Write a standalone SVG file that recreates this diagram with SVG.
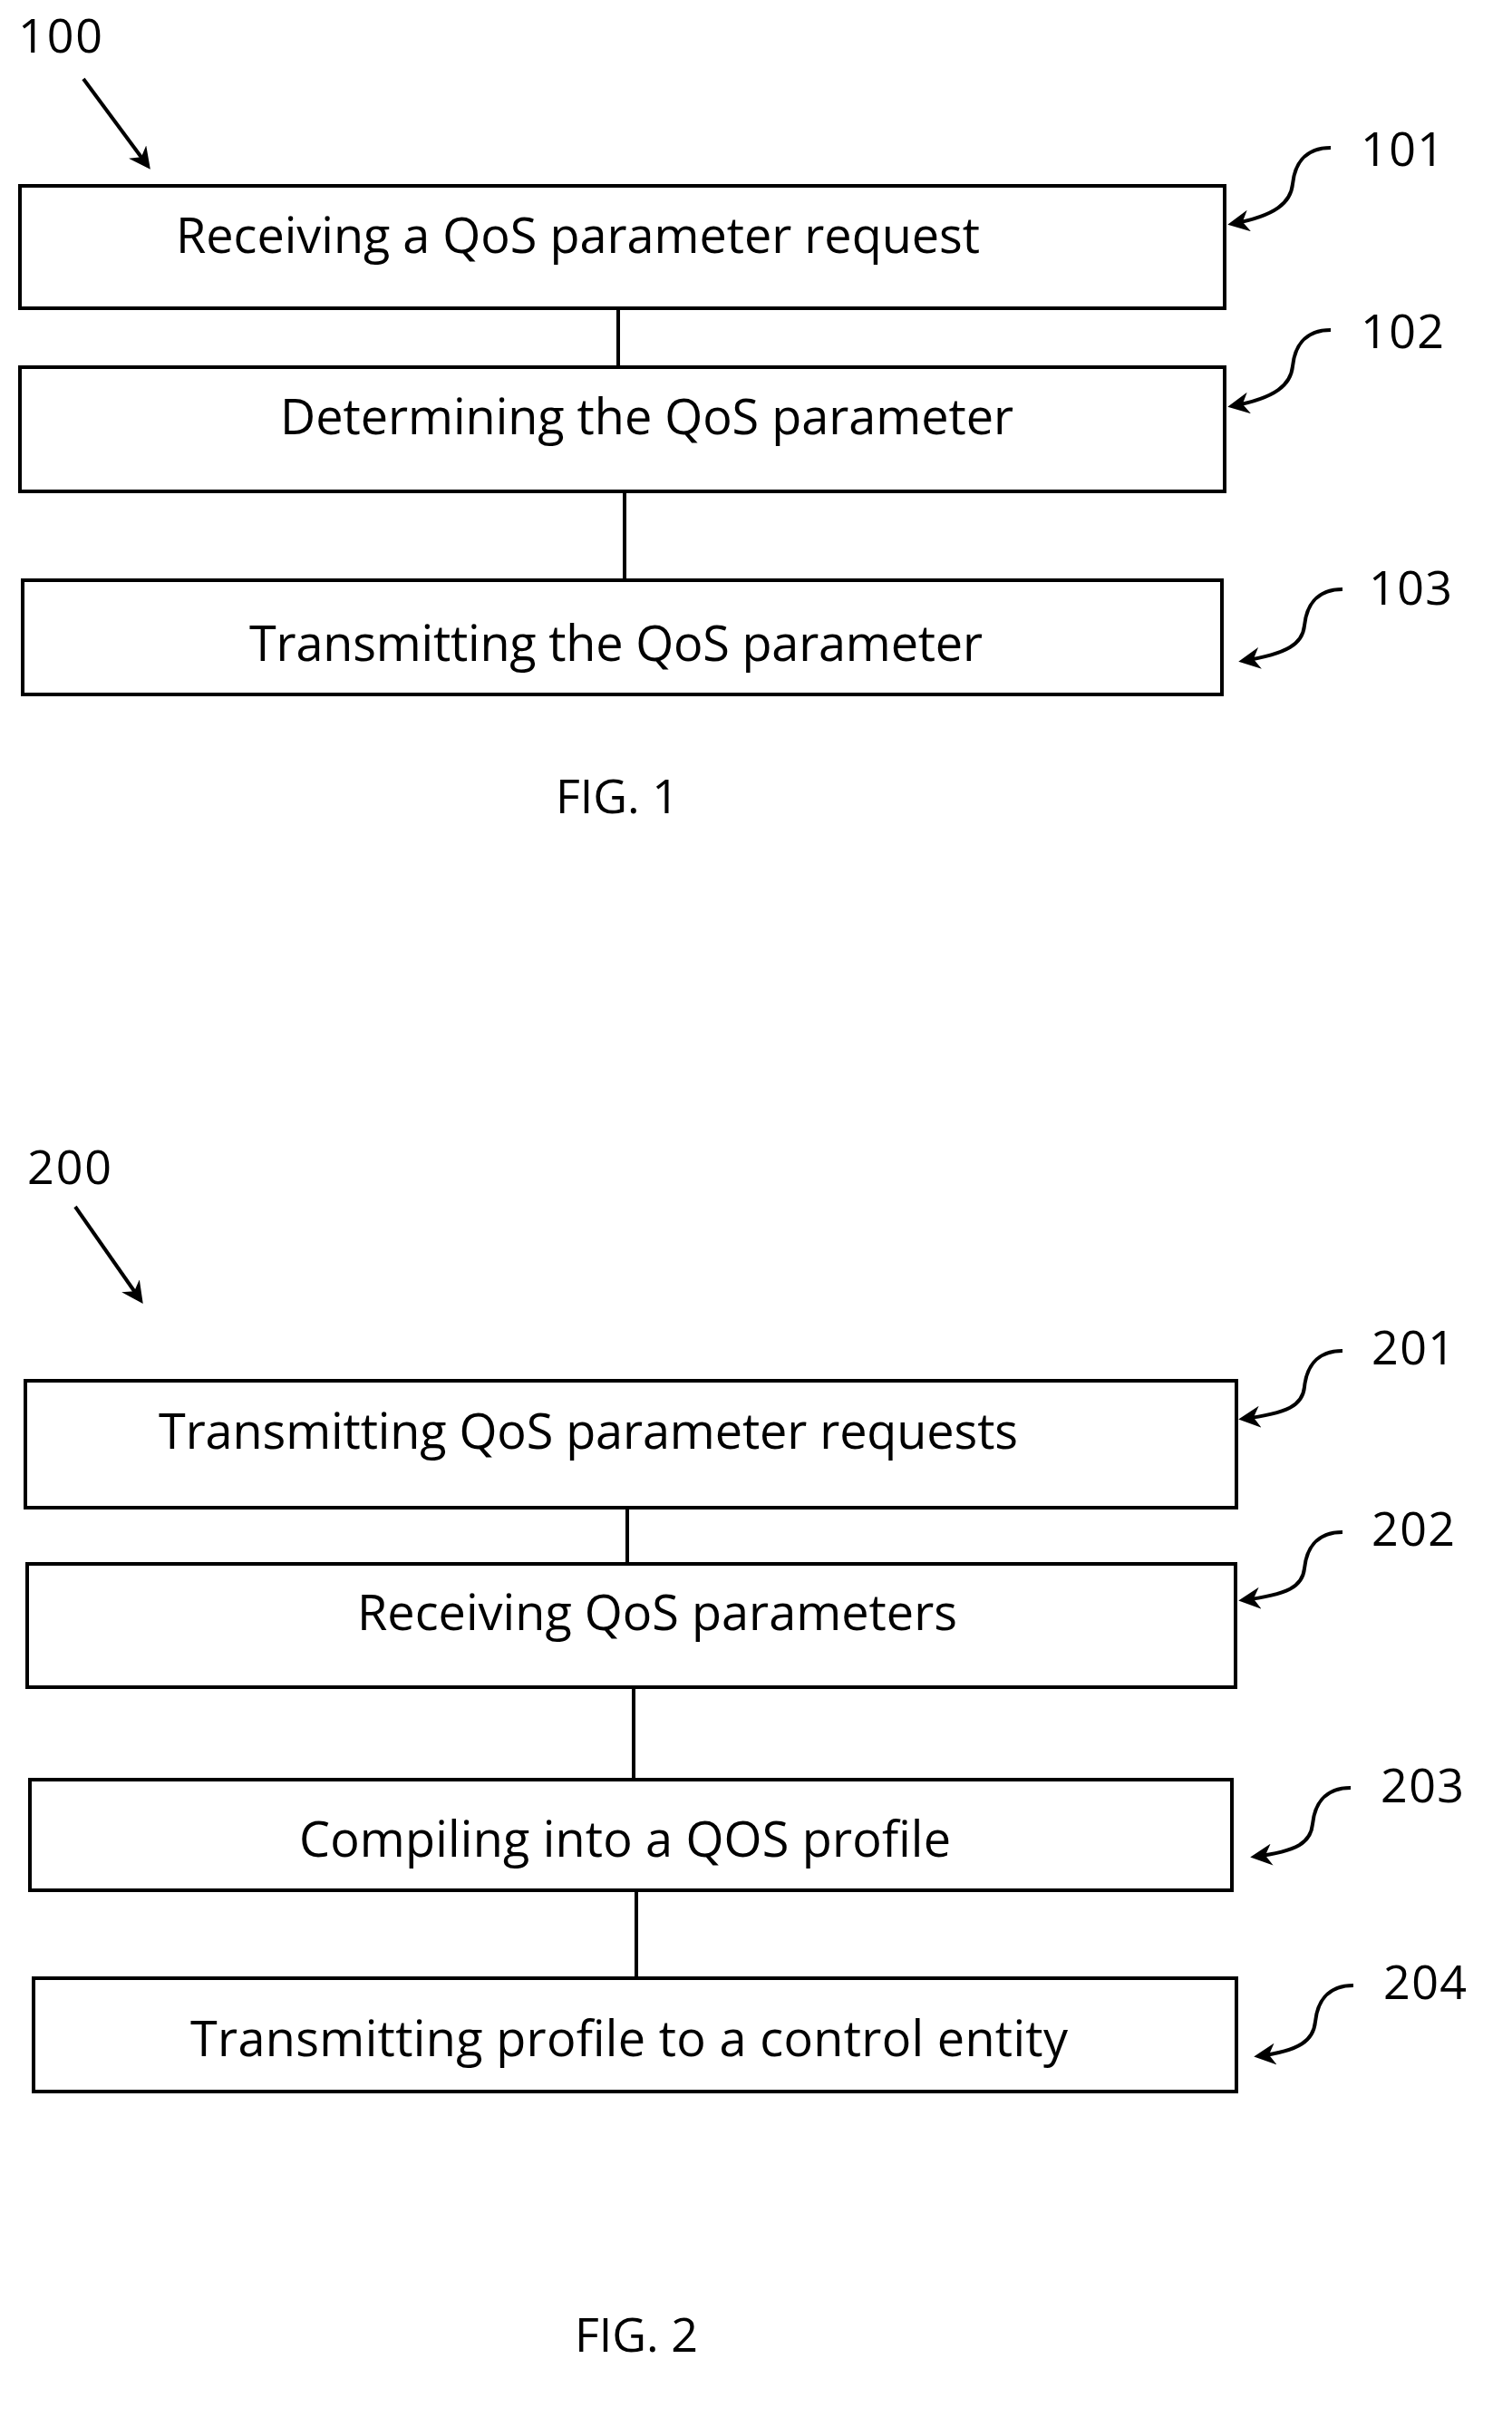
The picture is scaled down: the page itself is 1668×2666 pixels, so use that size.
<svg xmlns="http://www.w3.org/2000/svg" width="1668" height="2666" viewBox="0 0 1668 2666">
<style>
.box{fill:#fff;stroke:#000;stroke-width:4}
.t{font-family:"Open Sans","Liberation Sans",sans-serif;font-size:54px;fill:#000}
.lbl{font-family:"Open Sans","Liberation Sans",sans-serif;font-size:52px;fill:#000}
.c{stroke:#000;stroke-width:4;fill:none}
.cur{stroke:#000;stroke-width:4;fill:none;marker-end:url(#ah)}
</style>
<defs>
<marker id="ah" viewBox="0 0 10 10" refX="8" refY="5" markerWidth="6" markerHeight="6" orient="auto" markerUnits="strokeWidth">
<path d="M0,0 L10,5 L0,10 L3,5 Z" fill="#000"/>
</marker>
</defs>
<rect width="1668" height="2666" fill="#fff"/>
<g id="connectors">
<line class="c" x1="682" y1="340" x2="682" y2="405"/>
<line class="c" x1="689" y1="542" x2="689" y2="640"/>
<line class="c" x1="692" y1="1663" x2="692" y2="1725"/>
<line class="c" x1="699" y1="1861" x2="699" y2="1963"/>
<line class="c" x1="702" y1="2085" x2="702" y2="2182"/>
<line class="cur" x1="92" y1="87" x2="163" y2="183"/>
<line class="cur" x1="83" y1="1331" x2="155" y2="1434"/>
<path class="cur" d="M1468,163 c-30,0 -40,20 -42,40 c-2,20 -18,35 -67,44"/>
<path class="cur" d="M1468,364 c-30,0 -40,20 -42,40 c-2,20 -18,35 -67,44"/>
<path class="cur" d="M1481,650 c-30,0 -40,20 -42,40 c-2,20 -18,31 -68,39"/>
<path class="cur" d="M1481,1490 c-30,0 -40,20 -42,40 c-2,20 -18,29 -68,35"/>
<path class="cur" d="M1481,1690 c-30,0 -40,20 -42,40 c-2,20 -18,29 -68,35"/>
<path class="cur" d="M1490,1972 c-30,0 -40,20 -42,40 c-2,20 -16,30 -64,36"/>
<path class="cur" d="M1493,2190 c-30,0 -40,20 -42,40 c-2,20 -16,32 -63,38"/>
</g>
<g id="n100"><text class="lbl" x="20" y="58" textLength="93">100</text></g>
<g id="n101">
<rect class="box" x="22" y="205" width="1329" height="135"/>
<text class="t" x="194" y="279" textLength="887">Receiving a QoS parameter request</text>
<text class="lbl" x="1501" y="183" textLength="92">101</text>
</g>
<g id="n102">
<rect class="box" x="22" y="405" width="1329" height="137"/>
<text class="t" x="309" y="479" textLength="809">Determining the QoS parameter</text>
<text class="lbl" x="1501" y="384" textLength="92">102</text>
</g>
<g id="n103">
<rect class="box" x="25" y="640" width="1323" height="126"/>
<text class="t" x="275" y="729" textLength="809">Transmitting the QoS parameter</text>
<text class="lbl" x="1510" y="667" textLength="92">103</text>
</g>
<g id="fig1"><text class="lbl" x="681" y="897" text-anchor="middle">FIG. 1</text></g>
<g id="n200"><text class="lbl" x="30" y="1306" textLength="93">200</text></g>
<g id="n201">
<rect class="box" x="28" y="1523" width="1336" height="140"/>
<text class="t" x="175" y="1598" textLength="948">Transmitting QoS parameter requests</text>
<text class="lbl" x="1513" y="1505" textLength="92">201</text>
</g>
<g id="n202">
<rect class="box" x="30" y="1725" width="1333" height="136"/>
<text class="t" x="394" y="1798" textLength="662">Receiving QoS parameters</text>
<text class="lbl" x="1513" y="1705" textLength="92">202</text>
</g>
<g id="n203">
<rect class="box" x="33" y="1963" width="1326" height="122"/>
<text class="t" x="330" y="2048" textLength="719">Compiling into a QOS profile</text>
<text class="lbl" x="1523" y="1988" textLength="92">203</text>
</g>
<g id="n204">
<rect class="box" x="37" y="2182" width="1327" height="125"/>
<text class="t" x="210" y="2268" textLength="968">Transmitting profile to a control entity</text>
<text class="lbl" x="1526" y="2205" textLength="92">204</text>
</g>
<g id="fig2"><text class="lbl" x="702" y="2594" text-anchor="middle">FIG. 2</text></g>
</svg>
